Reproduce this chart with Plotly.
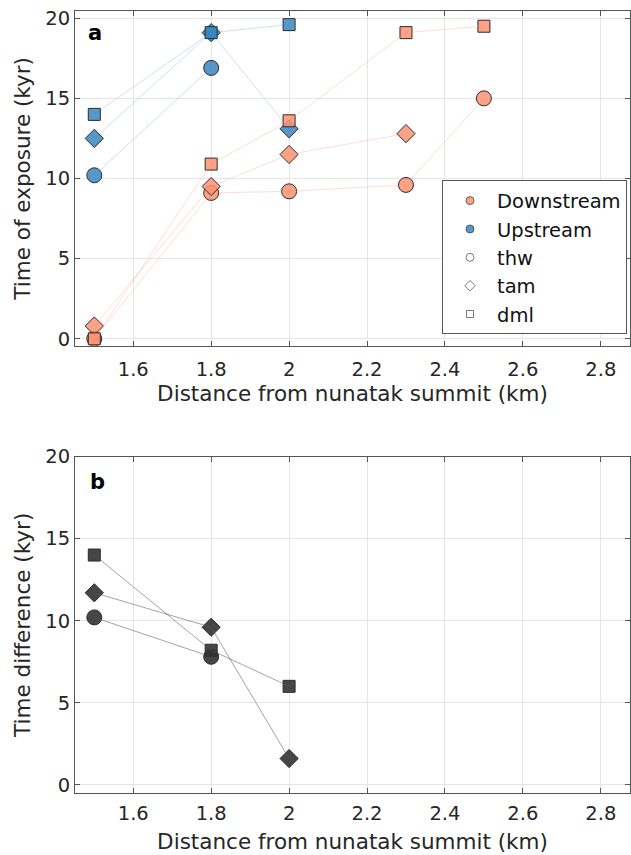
import plotly.graph_objects as go

# ---------------- data ----------------
# Upstream exposure ages (kyr)
up_thw_x = [1.5, 1.8]
up_thw_y = [10.2, 16.9]
up_tam_x = [1.5, 1.8, 2.0]
up_tam_y = [12.5, 19.1, 13.1]
up_dml_x = [1.5, 1.8, 2.0]
up_dml_y = [14.0, 19.1, 19.6]

# Downstream exposure ages (kyr)
dn_thw_x = [1.5, 1.8, 2.0, 2.3, 2.5]
dn_thw_y = [0.0, 9.1, 9.2, 9.6, 15.0]
dn_tam_x = [1.5, 1.8, 2.0, 2.3]
dn_tam_y = [0.8, 9.5, 11.5, 12.8]
dn_dml_x = [1.5, 1.8, 2.0, 2.3, 2.5]
dn_dml_y = [0.0, 10.9, 13.6, 19.1, 19.5]

# Time differences (kyr)
df_thw_x = [1.5, 1.8]
df_thw_y = [10.2, 7.8]
df_tam_x = [1.5, 1.8, 2.0]
df_tam_y = [11.7, 9.6, 1.6]
df_dml_x = [1.5, 1.8, 2.0]
df_dml_y = [14.0, 8.2, 6.0]

x_ticks = [1.6, 1.8, 2.0, 2.2, 2.4, 2.6, 2.8]
x_tick_text = ["1.6", "1.8", "2", "2.2", "2.4", "2.6", "2.8"]
y_ticks = [0, 5, 10, 15, 20]

# ---------------- style ----------------
FONT = "DejaVu Sans"
TXT = "#262626"
ORANGE = "rgba(252,146,114,0.85)"
ORANGE_LINE = "rgba(252,146,114,0.45)"
BLUE = "rgba(49,130,189,0.82)"
BLUE_LINE = "rgba(49,130,189,0.35)"
GREY = "rgba(50,50,50,0.9)"
GREY_LINE = "rgba(90,90,90,0.8)"
EDGE = dict(color="#2b2b2b", width=1)

sym = {"thw": ("circle", 15), "tam": ("diamond", 14), "dml": ("square", 12)}

fig = go.Figure()


def add_group(xs, ys, name, face, linecol, xa, ya):
    s, size = sym[name]
    fig.add_trace(go.Scatter(
        x=xs, y=ys, mode="markers", xaxis=xa, yaxis=ya, showlegend=False,
        marker=dict(symbol=s, size=size, color=face, line=EDGE),
        hoverinfo="skip"))
    fig.add_trace(go.Scatter(
        x=xs, y=ys, mode="lines", xaxis=xa, yaxis=ya, showlegend=False,
        line=dict(color=linecol, width=0.7), hoverinfo="skip"))


# panel a: upstream first, then downstream on top
add_group(up_thw_x, up_thw_y, "thw", BLUE, BLUE_LINE, "x", "y")
add_group(up_tam_x, up_tam_y, "tam", BLUE, BLUE_LINE, "x", "y")
add_group(up_dml_x, up_dml_y, "dml", BLUE, BLUE_LINE, "x", "y")
add_group(dn_thw_x, dn_thw_y, "thw", ORANGE, ORANGE_LINE, "x", "y")
add_group(dn_tam_x, dn_tam_y, "tam", ORANGE, ORANGE_LINE, "x", "y")
add_group(dn_dml_x, dn_dml_y, "dml", ORANGE, ORANGE_LINE, "x", "y")

# panel b
add_group(df_thw_x, df_thw_y, "thw", GREY, GREY_LINE, "x2", "y2")
add_group(df_tam_x, df_tam_y, "tam", GREY, GREY_LINE, "x2", "y2")
add_group(df_dml_x, df_dml_y, "dml", GREY, GREY_LINE, "x2", "y2")

# legend entries
leg = [
    ("Downstream", "circle", 8, ORANGE, "#444"),
    ("Upstream", "circle", 8, BLUE, "#444"),
    ("thw", "circle-open", 8, "#555", "#555"),
    ("tam", "diamond-open", 8, "#555", "#555"),
    ("dml", "square-open", 7, "#555", "#555"),
]
for name, s, size, c, lc in leg:
    fig.add_trace(go.Scatter(
        x=[None], y=[None], mode="markers", name=name, xaxis="x", yaxis="y",
        marker=dict(symbol=s, size=size, color=c, line=dict(color=lc, width=0.8))))

axis_common = dict(
    showline=True, linecolor="#555555", linewidth=1, mirror="ticks",
    ticks="inside", ticklen=5, tickcolor="#555555", tickwidth=1,
    showgrid=True, gridcolor="#e6e6e6", gridwidth=1, zeroline=False,
    tickfont=dict(family=FONT, size=19.5, color=TXT),
)

xrange = [1.4505, 2.875]
title_font = dict(family=FONT, size=21.5, color=TXT)

fig.update_layout(
    width=631, height=855,
    margin=dict(l=75, r=0, t=9, b=62),
    paper_bgcolor="white", plot_bgcolor="white",
    font=dict(family=FONT, color=TXT),
    xaxis=dict(domain=[0, 1], range=xrange, anchor="y", tickvals=x_ticks, ticktext=x_tick_text,
               ticklabelstandoff=6,
               title=dict(text="Distance from nunatak summit (km)", font=title_font, standoff=4),
               **axis_common),
    yaxis=dict(domain=[0.572, 1.0], range=[-0.43, 20.45], anchor="x", tickvals=y_ticks,
               ticklabelstandoff=0,
               title=dict(text="Time of exposure (kyr)", font=title_font, standoff=8),
               **axis_common),
    xaxis2=dict(domain=[0, 1], range=xrange, anchor="y2", tickvals=x_ticks, ticktext=x_tick_text,
                ticklabelstandoff=3,
                title=dict(text="Distance from nunatak summit (km)", font=title_font, standoff=9),
                **axis_common),
    yaxis2=dict(domain=[0.0, 0.4302], range=[-0.5, 20.0], anchor="x2", tickvals=y_ticks,
                ticklabelstandoff=0,
                title=dict(text="Time difference (kyr)", font=title_font, standoff=8),
                **axis_common),
    legend=dict(x=0.9946, y=0.5864, xanchor="right", yanchor="bottom",
                bgcolor="white", bordercolor="#555555", borderwidth=1,
                font=dict(family=FONT, size=19.5, color="#111111"),
                tracegroupgap=0, itemsizing="trace", itemwidth=44),
    annotations=[
        dict(text="<b>a</b>", x=0.036, y=0.972, xref="paper", yref="paper", xanchor="center", yanchor="middle",
             showarrow=False, font=dict(family=FONT, size=21, color="black")),
        dict(text="<b>b</b>", x=0.04, y=0.398, xref="paper", yref="paper", xanchor="center", yanchor="middle",
             showarrow=False, font=dict(family=FONT, size=21, color="black")),
    ],
)

fig.write_html("out.html", config={"displayModeBar": False},
               post_script="document.body.style.margin='0';")
